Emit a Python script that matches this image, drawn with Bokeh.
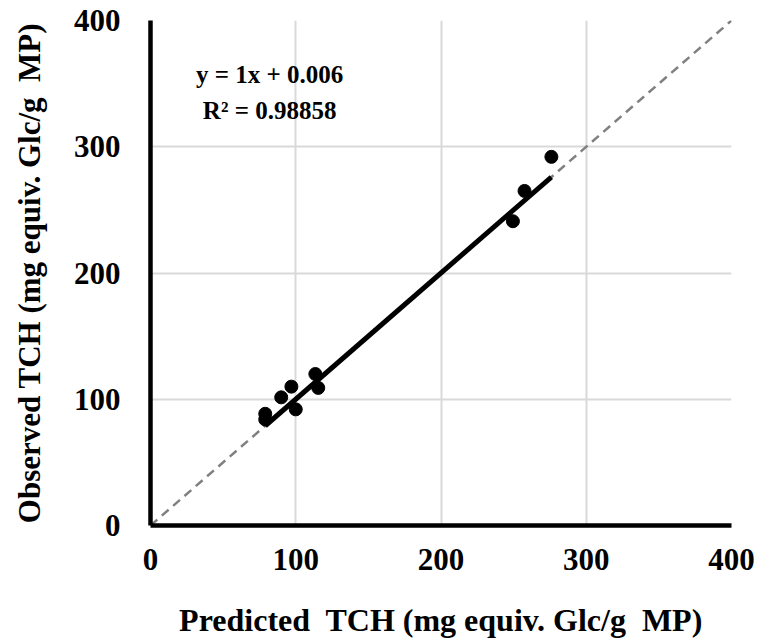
from bokeh.plotting import figure
from bokeh.models import Range1d, FixedTicker, Label
from bokeh.embed import file_html
from bokeh.resources import INLINE

# data
predicted = [79, 79, 90, 97, 100, 113.5, 115.5, 249.5, 257.5, 276]
observed = [88.5, 84, 101.5, 110, 92, 120, 109, 241, 265, 292]
ticks = [0, 100, 200, 300, 400]
slope = 1.0
intercept = 0.006
r2 = 0.98858
identity = [0, 400]

FONT = "Liberation Serif"
NB = "\u00a0"

p = figure(width=758, height=643, output_backend="svg", toolbar_location=None,
           x_range=Range1d(0, 400), y_range=Range1d(0, 400),
           min_border_left=150, min_border_right=27, min_border_top=20,
           min_border_bottom=118)
p.outline_line_color = None
p.background_fill_color = "white"
p.border_fill_color = "white"

for ax in (p.xaxis[0], p.yaxis[0]):
    ax.ticker = FixedTicker(ticks=ticks)
    ax.axis_line_width = 4.5
    ax.axis_line_color = "black"
    ax.major_tick_out = 0
    ax.major_tick_in = 0
    ax.minor_tick_out = 0
    ax.minor_tick_in = 0
    ax.major_label_text_font = FONT
    ax.major_label_text_font_style = "bold"
    ax.major_label_text_font_size = "31px"
    ax.major_label_text_color = "black"
    ax.axis_label_text_font = FONT
    ax.axis_label_text_font_style = "bold"
    ax.axis_label_text_color = "black"

p.xaxis.axis_label_text_font_size = "32px"
p.yaxis.axis_label_text_font_size = "31px"
p.xaxis.axis_label = "Predicted" + NB + " TCH (mg equiv. Glc/g" + NB + " MP)"
p.yaxis.axis_label = "Observed TCH (mg equiv. Glc/g" + NB + " MP)"
p.xaxis.major_label_standoff = 23
p.xaxis.axis_label_standoff = 29
p.yaxis.major_label_standoff = 30
p.yaxis.axis_label_standoff = 24

for g in (p.xgrid[0], p.ygrid[0]):
    g.ticker = FixedTicker(ticks=ticks)
    g.grid_line_color = "#d9d9d9"
    g.grid_line_width = 2

# 1:1 dashed line
p.line(identity, identity, line_color="#808080", line_width=2.5, line_dash="9 6")

# trendline
x0, x1 = min(predicted), max(predicted)
p.line([x0, x1], [slope * x0 + intercept, slope * x1 + intercept],
       line_color="black", line_width=5)

p.scatter(predicted, observed, size=13, color="black")

eq = Label(x=82, y=357, text="y = 1x + 0.006", text_align="center",
           text_baseline="middle", text_font=FONT, text_font_style="bold",
           text_font_size="25px", text_color="black")
rr = Label(x=82, y=329, text="R\u00b2 = %.5f" % r2, text_align="center",
           text_baseline="middle", text_font=FONT, text_font_style="bold",
           text_font_size="25px", text_color="black")
p.add_layout(eq)
p.add_layout(rr)

open("out.html", "w").write(file_html(p, INLINE))
